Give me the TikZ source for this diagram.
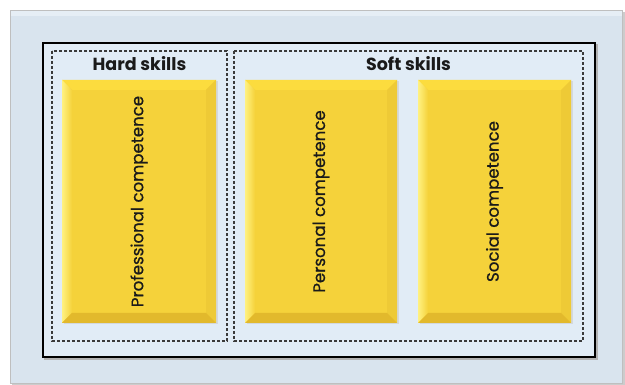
\documentclass[tikz,border=0pt]{standalone}
\usepackage{fontspec}
\setmainfont{Poppins}
\newfontfamily\medfont[FakeBold=0.8]{Poppins}
\usetikzlibrary{shadows}
\definecolor{framefill}{HTML}{D9E4EE}
\definecolor{framestrip}{HTML}{E6EEF5}
\definecolor{innerfill}{HTML}{E1ECF6}
\definecolor{yelbase}{HTML}{F5D23A}
\definecolor{yeltop}{HTML}{FCDC3E}
\definecolor{yelleft}{HTML}{FFEE62}
\definecolor{yelright}{HTML}{EECA36}
\definecolor{yelbot}{HTML}{E2B92C}
\definecolor{dashgray}{HTML}{3A3A3A}
\definecolor{textcol}{HTML}{1A1A1A}
\tikzset{
  x=1pt,y=-1pt,
  group/.style={draw=dashgray,dashed,dash pattern=on 3pt off 2pt,line width=1.1pt},
  head/.style={font=\bfseries\fontsize{17.5}{19}\selectfont,inner sep=0pt,text=textcol},
  boxtext/.style={font=\medfont\fontsize{16.6}{18}\selectfont,rotate=90,inner sep=0pt,text=textcol},
}
% bevel box: #1 name, #2 x0, #3 y0, #4 x1, #5 y1, #6 text
\newcommand{\bevelbox}[6]{%
  \fill[gray!45,opacity=0.5] (#2+1.5,#3+1.5) rectangle (#4+1.5,#5+1.5);
  \fill[yelbase] (#2,#3) rectangle (#4,#5);
  \fill[yeltop] (#2,#3) -- (#4,#3) -- (#4-10,#3+10) -- (#2+10,#3+10) -- cycle;
  \shade[left color=yelleft!80!white,right color=yelbase] (#2,#3) -- (#2+10,#3+10) -- (#2+10,#5-10) -- (#2,#5) -- cycle;
  \fill[yelright] (#4,#3) -- (#4,#5) -- (#4-10,#5-10) -- (#4-10,#3+10) -- cycle;
  \fill[yelbot] (#2,#5) -- (#4,#5) -- (#4-10,#5-10) -- (#2+10,#5-10) -- cycle;
  \node[boxtext] (#1) at ({(#2+#4)/2},{(#3+#5)/2}) {#6};
}
\begin{document}
\begin{tikzpicture}
\useasboundingbox (0,0) rectangle (625,385);
\fill[white] (0,0) rectangle (625,385);
% outer frame with shadow
\fill[gray!40] (12,12) rectangle (625,385);
\fill[framefill] (10,10) rectangle (622,383);
\fill[framestrip] (10,10) rectangle (622,16);
\draw[gray!50,line width=0.6pt] (10,10) rectangle (622,383);
% inner black frame
\draw[gray!60,line width=1.5pt] (45,45) rectangle (597,359);
\filldraw[fill=innerfill,draw=black,line width=1.6pt] (43,43) rectangle (595,357);
% dashed groups
\draw[group] (52,51) rectangle (227,341);
\draw[group] (234,51) rectangle (583,341);
\node[head] (hard) at (139.5,64) {Hard skills};
\node[head] (soft) at (408.5,64) {Soft skills};
\bevelbox{prof}{62}{80}{216}{323}{Professional competence}
\bevelbox{pers}{245}{80}{397}{323}{Personal competence}
\bevelbox{soc}{418}{80}{571}{323}{Social competence}
\end{tikzpicture}
\end{document}
